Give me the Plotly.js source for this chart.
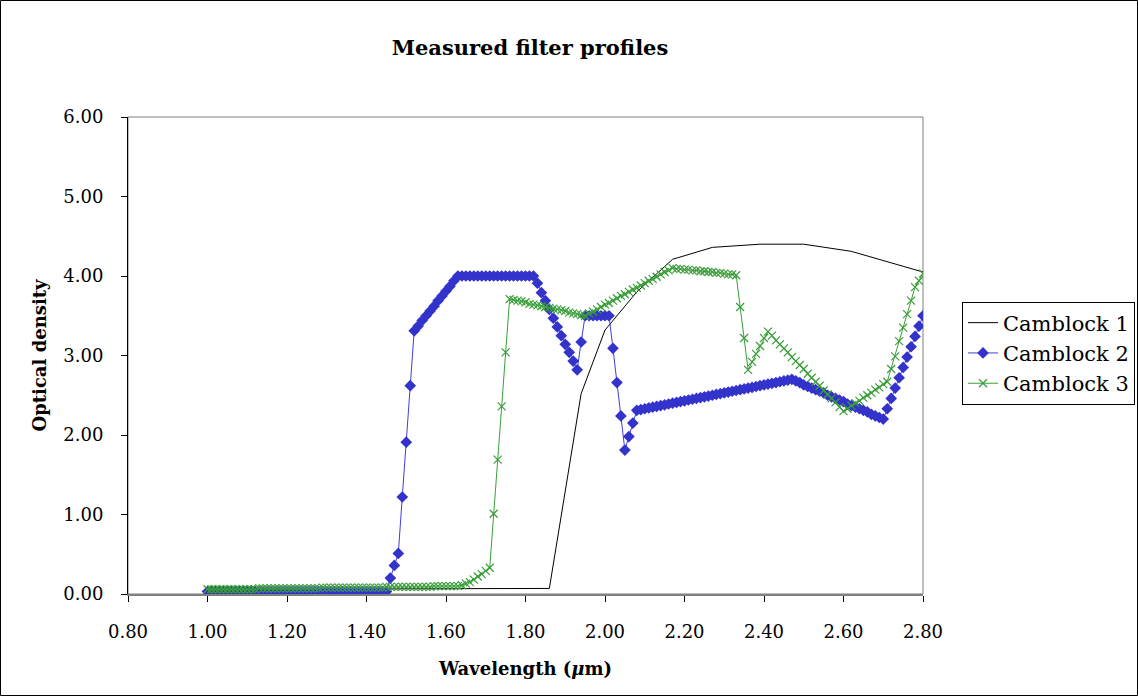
<!DOCTYPE html>
<html>
<head>
<meta charset="utf-8">
<script src="https://cdn.plot.ly/plotly-3.0.1.min.js"></script>
<style>html,body{margin:0;padding:0;background:#fff;}#chart{width:1138px;height:696px;}</style>
</head>
<body>
<div id="chart"></div>
<script>
// Wavelength grid (µm) for Camblock 2 and 3
const wavelength = [
1.00,1.01,1.02,1.03,1.04,1.05,1.06,1.07,1.08,1.09,
1.10,1.11,1.12,1.13,1.14,1.15,1.16,1.17,1.18,1.19,
1.20,1.21,1.22,1.23,1.24,1.25,1.26,1.27,1.28,1.29,
1.30,1.31,1.32,1.33,1.34,1.35,1.36,1.37,1.38,1.39,
1.40,1.41,1.42,1.43,1.44,1.45,1.46,1.47,1.48,1.49,
1.50,1.51,1.52,1.53,1.54,1.55,1.56,1.57,1.58,1.59,
1.60,1.61,1.62,1.63,1.64,1.65,1.66,1.67,1.68,1.69,
1.70,1.71,1.72,1.73,1.74,1.75,1.76,1.77,1.78,1.79,
1.80,1.81,1.82,1.83,1.84,1.85,1.86,1.87,1.88,1.89,
1.90,1.91,1.92,1.93,1.94,1.95,1.96,1.97,1.98,1.99,
2.00,2.01,2.02,2.03,2.04,2.05,2.06,2.07,2.08,2.09,
2.10,2.11,2.12,2.13,2.14,2.15,2.16,2.17,2.18,2.19,
2.20,2.21,2.22,2.23,2.24,2.25,2.26,2.27,2.28,2.29,
2.30,2.31,2.32,2.33,2.34,2.35,2.36,2.37,2.38,2.39,
2.40,2.41,2.42,2.43,2.44,2.45,2.46,2.47,2.48,2.49,
2.50,2.51,2.52,2.53,2.54,2.55,2.56,2.57,2.58,2.59,
2.60,2.61,2.62,2.63,2.64,2.65,2.66,2.67,2.68,2.69,
2.70,2.71,2.72,2.73,2.74,2.75,2.76,2.77,2.78,2.79,
2.80];

// Camblock 1 (sparse points)
const cam1X = [1.00,1.86,1.94,2.00,2.08,2.17,2.27,2.39,2.50,2.62,2.80];
const cam1Y = [0.06,0.07,2.52,3.32,3.80,4.21,4.36,4.40,4.40,4.31,4.05];

// Camblock 2
const cam2Y = [
0.03,0.03,0.03,0.03,0.03,0.03,0.03,0.03,0.03,0.03,
0.03,0.03,0.03,0.03,0.03,0.03,0.03,0.03,0.03,0.03,
0.03,0.03,0.03,0.03,0.03,0.03,0.03,0.03,0.03,0.03,
0.03,0.03,0.03,0.03,0.03,0.03,0.03,0.03,0.03,0.03,
0.03,0.03,0.03,0.03,0.03,0.03,0.20,0.36,0.51,1.22,
1.91,2.62,3.31,3.37,3.44,3.50,3.56,3.62,3.69,3.75,
3.81,3.87,3.94,4.00,4.00,4.00,4.00,4.00,4.00,4.00,
4.00,4.00,4.00,4.00,4.00,4.00,4.00,4.00,4.00,4.00,
4.00,4.00,4.00,3.91,3.79,3.69,3.58,3.47,3.36,3.25,
3.14,3.04,2.93,2.82,3.17,3.50,3.50,3.50,3.50,3.50,
3.50,3.50,3.09,2.66,2.24,1.81,1.98,2.15,2.31,2.32,
2.33,2.34,2.35,2.36,2.37,2.38,2.39,2.40,2.41,2.42,
2.43,2.44,2.45,2.46,2.47,2.48,2.49,2.50,2.51,2.52,
2.53,2.54,2.55,2.56,2.57,2.58,2.59,2.60,2.61,2.62,
2.63,2.64,2.65,2.66,2.67,2.68,2.69,2.70,2.68,2.66,
2.63,2.61,2.59,2.57,2.55,2.53,2.50,2.48,2.46,2.44,
2.42,2.39,2.37,2.35,2.33,2.31,2.29,2.26,2.24,2.22,
2.20,2.33,2.46,2.59,2.72,2.85,2.98,3.11,3.24,3.37,
3.50];

// Camblock 3
const cam3Y = [
0.06,0.06,0.06,0.06,0.06,0.06,0.06,0.06,0.06,0.06,
0.06,0.06,0.06,0.07,0.07,0.07,0.07,0.07,0.07,0.07,
0.07,0.07,0.07,0.07,0.07,0.07,0.07,0.07,0.07,0.08,
0.08,0.08,0.08,0.08,0.08,0.08,0.08,0.08,0.08,0.08,
0.08,0.08,0.08,0.08,0.08,0.09,0.09,0.09,0.09,0.09,
0.09,0.09,0.09,0.09,0.09,0.09,0.09,0.10,0.10,0.10,
0.10,0.10,0.10,0.10,0.11,0.13,0.15,0.18,0.22,0.25,
0.29,0.33,1.01,1.69,2.36,3.04,3.71,3.70,3.69,3.68,
3.67,3.65,3.64,3.63,3.62,3.61,3.60,3.59,3.58,3.57,
3.56,3.54,3.53,3.52,3.51,3.50,3.53,3.55,3.58,3.61,
3.64,3.66,3.69,3.72,3.75,3.77,3.80,3.83,3.85,3.88,
3.91,3.94,3.96,3.99,4.02,4.05,4.07,4.10,4.09,4.09,
4.08,4.08,4.07,4.07,4.06,4.06,4.05,4.05,4.04,4.04,
4.03,4.02,4.02,4.01,3.61,3.22,2.82,2.92,3.02,3.12,
3.22,3.30,3.25,3.19,3.14,3.09,3.04,2.98,2.93,2.88,
2.83,2.77,2.72,2.67,2.62,2.56,2.51,2.46,2.41,2.35,
2.30,2.33,2.37,2.40,2.43,2.47,2.50,2.53,2.57,2.60,
2.64,2.67,2.83,2.99,3.18,3.35,3.52,3.69,3.86,3.94,
4.03];

const seriesNames = ['Camblock 1','Camblock 2','Camblock 3'];
const xTicks = [0.80,1.00,1.20,1.40,1.60,1.80,2.00,2.20,2.40,2.60,2.80];
const yTicks = [0,1,2,3,4,5,6];

const FONT = 'DejaVu Serif, serif';

const traces = [
  {x: cam1X, y: cam1Y, name: seriesNames[0], mode: 'lines',
   line: {color: '#000000', width: 1}},
  {x: wavelength, y: cam2Y, name: seriesNames[1], mode: 'lines+markers',
   line: {color: '#3f3fdd', width: 1},
   marker: {symbol: 'diamond', size: 9, color: '#3333cc'}},
  {x: wavelength, y: cam3Y, name: seriesNames[2], mode: 'lines+markers',
   line: {color: '#3a9e3a', width: 1},
   marker: {symbol: 'x-thin-open', size: 8, color: '#3a9e3a', line: {color: '#3a9e3a', width: 1.2}}}
];

const L = 128, R = 923, T = 117, B = 594, W = 1138, H = 696;
const pw = R - L, ph = B - T;

const layout = {
  width: W, height: H,
  margin: {l: L, r: W - R, t: T, b: H - B, pad: 0, autoexpand: false},
  paper_bgcolor: '#ffffff', plot_bgcolor: '#ffffff',
  font: {family: FONT, size: 18, color: '#000'},
  title: {text: '<b>Measured filter profiles</b>', font: {family: FONT, size: 21, color: '#000'},
          x: (530 - L) / pw, xref: 'paper', xanchor: 'center', y: 1 - 48 / H, yanchor: 'middle'},
  xaxis: {range: [0.8, 2.8], tickvals: xTicks, ticktext: xTicks.map(v => v.toFixed(2)),
          showgrid: false, zeroline: false, showline: true, linecolor: '#808080', linewidth: 2,
          ticks: 'outside', ticklen: 6, tickcolor: '#000', tickwidth: 1, ticklabelstandoff: 14,
          automargin: false,
          tickfont: {family: FONT, size: 18, color: '#000'},
          title: {text: '<b>Wavelength (<i>μ</i>m)</b>', font: {family: FONT, size: 18, color: '#000'}, standoff: 22}},
  yaxis: {range: [0, 6], tickvals: yTicks, ticktext: yTicks.map(v => v.toFixed(2)),
          showgrid: false, zeroline: false, showline: true, linecolor: '#000', linewidth: 1,
          ticks: 'outside', ticklen: 6, tickcolor: '#000', tickwidth: 1, ticklabelstandoff: 14,
          automargin: false,
          tickfont: {family: FONT, size: 18, color: '#000'},
          title: {text: '<b>Optical density</b>', font: {family: FONT, size: 18, color: '#000'}, standoff: 12}},
  showlegend: true,
  legend: {x: (962 - L) / pw, xanchor: 'left', y: (B - 353) / ph, yanchor: 'middle',
           bordercolor: '#000', borderwidth: 1, bgcolor: '#fff',
           font: {family: FONT, size: 21, color: '#000'}, tracegroupgap: 0, itemwidth: 30},
  shapes: [
    {type: 'rect', xref: 'paper', yref: 'paper', x0: 0, x1: 1, y0: 0, y1: 1,
     line: {color: '#808080', width: 1}, layer: 'below'},
    {type: 'rect', xref: 'paper', yref: 'paper',
     x0: (0.5 - L) / pw, x1: (W - 0.5 - L) / pw, y0: (B - (H - 0.5)) / ph, y1: (B - 0.5) / ph,
     line: {color: '#000', width: 1}}
  ]
};

Plotly.newPlot('chart', traces, layout, {displayModeBar: false, staticPlot: true});
</script>
</body>
</html>
